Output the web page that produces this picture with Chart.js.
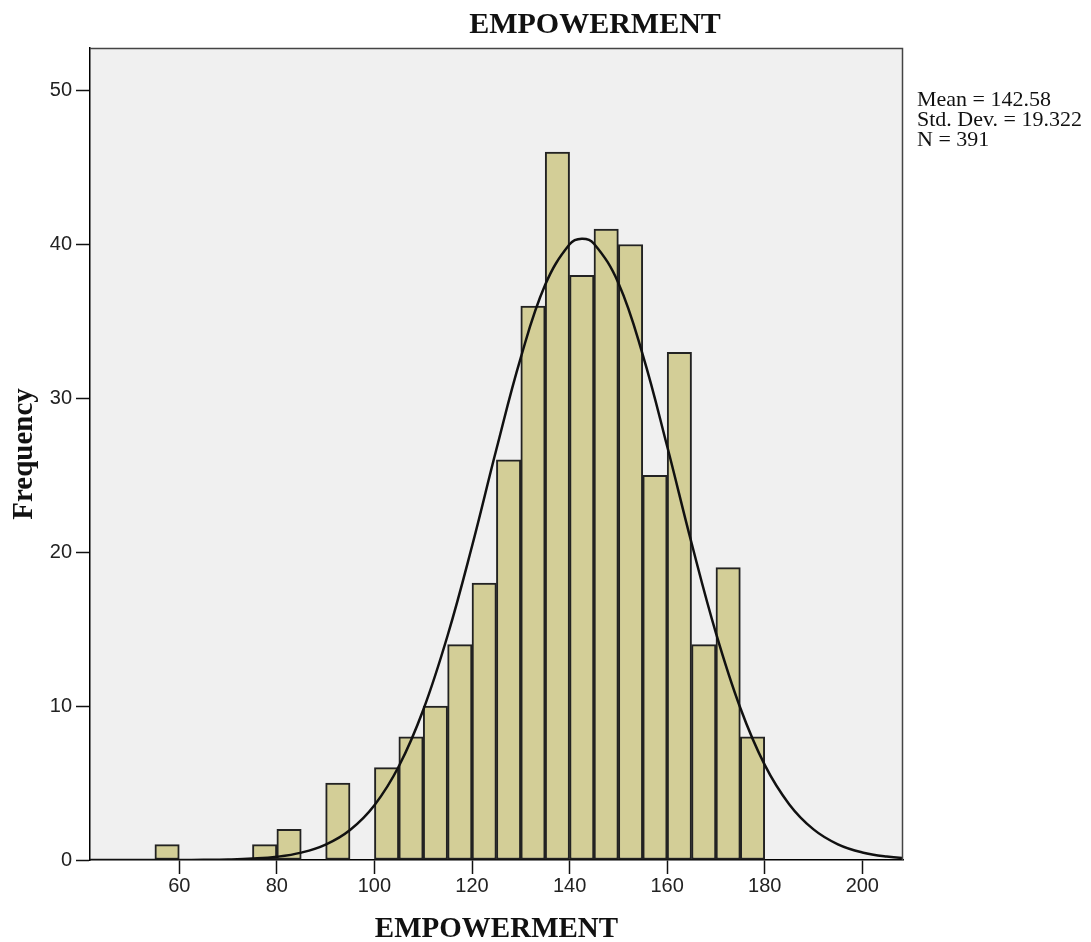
<!DOCTYPE html>
<html><head><meta charset="utf-8">
<script src="https://cdn.jsdelivr.net/npm/chart.js@4.4.1/dist/chart.umd.min.js"></script>
<style>
html,body{margin:0;padding:0;background:#fff;overflow:hidden}
#wrap{position:relative;width:1091px;height:942px}
#wrap canvas{position:absolute;left:0;top:0}
#title{position:absolute;left:0;width:1190px;top:8px;text-align:center;font:bold 30px "Liberation Serif";line-height:30px;color:#111;white-space:nowrap}
#stats{position:absolute;left:917px;top:89px;font:22px "Liberation Serif";line-height:20px;color:#111;white-space:nowrap}
</style></head>
<body>
<div id="wrap">
<canvas id="c" width="1091" height="942"></canvas>
<div id="title"></div>
<div id="stats"></div>
</div>
<script>
// ---- data ----
const chartTitle = 'EMPOWERMENT';
const xTitle = 'EMPOWERMENT';
const yTitle = 'Frequency';
const statsLines = ['Mean = 142.58', 'Std. Dev. = 19.322', 'N = 391'];
const binWidth = 5;
const binStart = [55, 75, 80, 90, 100, 105, 110, 115, 120, 125, 130, 135, 140, 145, 150, 155, 160, 165, 170, 175];
const binCount = [1, 1, 2, 5, 6, 8, 10, 14, 18, 26, 36, 46, 38, 41, 40, 25, 33, 14, 19, 8];
const curveX = [40, 45, 50, 55, 60, 65, 70, 75, 80, 85, 90, 95, 100, 105, 110, 115, 120, 125, 130, 135, 140, 142.5, 145, 150, 155, 160, 165, 170, 175, 180, 185, 190, 195, 200, 205, 210];
const curveY = [0, 0, 0, 0, 0.004, 0.013, 0.035, 0.09, 0.21, 0.48, 1.0, 1.95, 3.56, 6.09, 9.75, 14.59, 20.39, 26.69, 32.65, 37.38, 40.01, 40.37, 40.05, 37.5, 32.83, 26.89, 20.6, 14.75, 9.88, 6.18, 3.63, 1.99, 1.02, 0.49, 0.22, 0.09];
const xTicks = [60, 80, 100, 120, 140, 160, 180, 200];
const yTicks = [0, 10, 20, 30, 40, 50];

document.getElementById('title').textContent = chartTitle;
document.getElementById('stats').innerHTML = statsLines.map(s => '<div>' + s + '</div>').join('');

const barData = binStart.map((s, i) => ({x: s + binWidth / 2, y: binCount[i]}));
const lineData = curveX.map((x, i) => ({x: x, y: curveY[i]}));

const framePlugin = {
  id: 'frame',
  beforeDraw(chart) {
    const a = chart.chartArea, ctx = chart.ctx;
    ctx.save();
    ctx.fillStyle = '#f0f0f0';
    ctx.fillRect(a.left, a.top, a.right - a.left, a.bottom - a.top);
    ctx.restore();
  },
  afterDatasetsDraw(chart) {
    const a = chart.chartArea, ctx = chart.ctx;
    ctx.save();
    ctx.strokeStyle = '#444';
    ctx.lineWidth = 1.5;
    ctx.beginPath();
    ctx.moveTo(a.left, a.top + 0.5);
    ctx.lineTo(a.right - 0.5, a.top + 0.5);
    ctx.lineTo(a.right - 0.5, a.bottom);
    ctx.stroke();
    ctx.restore();
  }
};

const tickFont = {family: '"Liberation Sans", Arial, sans-serif', size: 20};
const titleFont = {family: '"Liberation Serif", "Times New Roman", serif', size: 29, weight: 'bold', lineHeight: 0.83};

new Chart(document.getElementById('c'), {
  data: {
    datasets: [
      {
        type: 'line', data: lineData, order: 0,
        borderColor: '#111', borderWidth: 2.5, pointRadius: 0, tension: 0.4, fill: false
      },
      {
        type: 'bar', data: barData, order: 1,
        backgroundColor: '#d3ce97', borderColor: '#222', borderWidth: 2,
        barPercentage: 1, categoryPercentage: 1, borderSkipped: false
      }
    ]
  },
  options: {
    responsive: false,
    animation: false,
    events: [],
    layout: {padding: {left: 0, top: 48, right: 188, bottom: 0}},
    plugins: {legend: {display: false}, tooltip: {enabled: false}, title: {display: false}},
    scales: {
      x: {
        type: 'linear', position: 'bottom', min: 41.7, max: 208.34, offset: false,
        afterBuildTicks(s) { s.ticks = xTicks.map(v => ({value: v})); },
        afterFit(s) { s.height = 82; },
        grid: {display: true, offset: false, drawOnChartArea: false, drawTicks: true, tickLength: 14, color: '#111', tickWidth: 1.5},
        border: {display: true, color: '#000', width: 1.5},
        ticks: {font: tickFont, color: '#222', padding: 0, maxRotation: 0, autoSkip: false},
        title: {display: true, text: xTitle, font: titleFont, color: '#111', padding: 0}
      },
      y: {
        type: 'linear', min: 0, max: 52.77,
        afterBuildTicks(s) { s.ticks = yTicks.map(v => ({value: v})); },
        afterFit(s) { s.width = 90; },
        grid: {display: true, drawOnChartArea: false, drawTicks: true, tickLength: 14, color: '#111', tickWidth: 1.5},
        border: {display: true, color: '#000', width: 1.5},
        ticks: {font: tickFont, color: '#222', padding: 4, autoSkip: false},
        title: {display: true, text: yTitle, font: titleFont, color: '#111', padding: {top: 12, bottom: 0}}
      }
    }
  },
  plugins: [framePlugin]
});
</script>
</body></html>
